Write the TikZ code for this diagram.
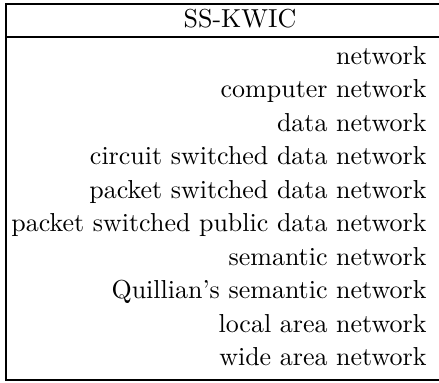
\documentclass[tikz,border=0pt]{standalone}
\usepackage{amsmath, amsfonts, amssymb}
\usepackage{tikz}

\begin{document}
\begin{tikzpicture}[x=0.385pt,y=0.385pt,yscale=-1,xscale=1]
	%set diagram left start at 0, and has height of 382
	\useasboundingbox (0,0) rectangle (439,382);
	\tikzset{entry/.style={anchor=base east, inner sep=0pt, font=\normalsize}}
	
	%Shape: Rectangle [id:kwicbox] 
	\draw  [line width=0.7pt] (6,4) -- (474,4) -- (474,380) -- (6,380) -- cycle ;
	%Straight Lines [id:headrule] 
	\draw  [line width=0.7pt] (6,37) -- (474,37) ;
	
	%Text Node [id:header]
	\node [anchor=base, inner sep=0pt] (header) at (240,27) {SS-KWIC};
	
	%Text Node [id:kw1]
	\node [entry] (kw1) at (427,64) {network};
	%Text Node [id:kw2]
	\node [entry] (kw2) at (427,97.5) {computer network};
	%Text Node [id:kw3]
	\node [entry] (kw3) at (427,131) {data network};
	%Text Node [id:kw4]
	\node [entry] (kw4) at (427,164.5) {circuit switched data network};
	%Text Node [id:kw5]
	\node [entry] (kw5) at (427,198) {packet switched data network};
	%Text Node [id:kw6]
	\node [entry] (kw6) at (427,231.5) {packet switched public data network};
	%Text Node [id:kw7]
	\node [entry] (kw7) at (427,265) {semantic network};
	%Text Node [id:kw8]
	\node [entry] (kw8) at (427,298.5) {Quillian's semantic network};
	%Text Node [id:kw9]
	\node [entry] (kw9) at (427,332) {local area network};
	%Text Node [id:kw10]
	\node [entry] (kw10) at (427,365.5) {wide area network};
	
\end{tikzpicture}
\end{document}
